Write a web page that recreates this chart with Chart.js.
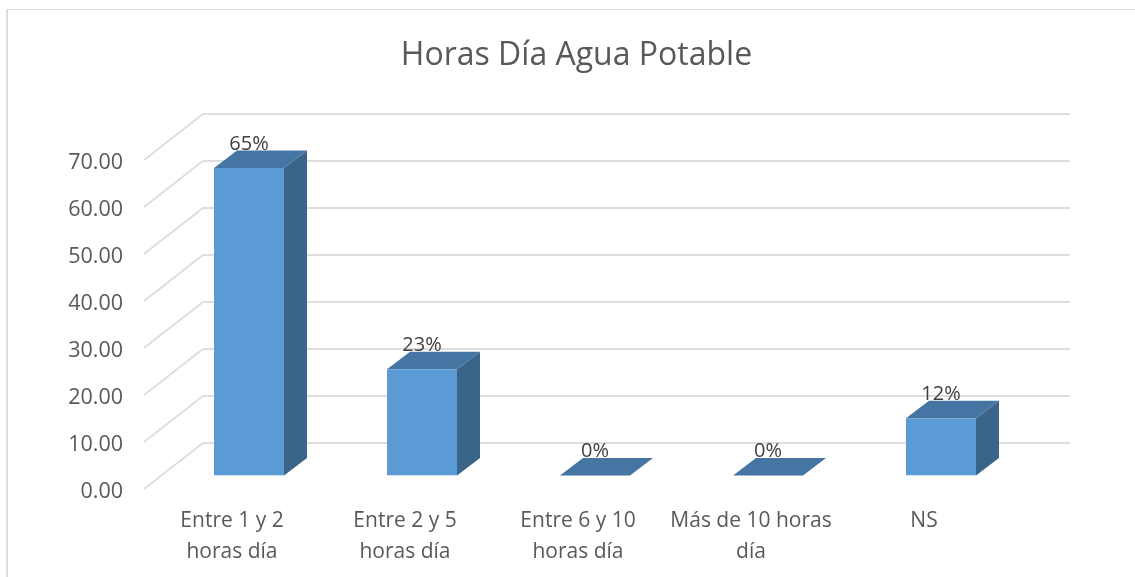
<!DOCTYPE html>
<html>
<head>
<meta charset="utf-8">
<title>Horas Día Agua Potable</title>
<script src="https://cdn.jsdelivr.net/npm/chart.js@4/dist/chart.umd.min.js"></script>
<style>
    html, body { margin: 0; padding: 0; background: #fff; overflow: hidden; }
    #frame { position: absolute; left: 6px; top: 9px; right: 0; bottom: 0; border-left: 2px solid #dedede; border-top: 1px solid #dedede; }
    #the-graph { position: absolute; left: 0; top: 0; }
</style>
</head>
<body>
<div id="frame"></div>
<canvas id="the-graph" width="1135" height="577"></canvas>
<script>
/*
 *  Data
 */
const chartTitle = 'Horas Día Agua Potable';
const categories = [
    ['Entre 1 y 2', 'horas día'],
    ['Entre 2 y 5', 'horas día'],
    ['Entre 6 y 10', 'horas día'],
    ['Más de 10 horas', 'día'],
    ['NS']
];
const percentValues = [65.4, 22.6, 0, 0, 12.2];
const axisMax = 70;
const axisStep = 10;

/*
 *  Fake 3D look, Chart.js has no 3D bars
 */
const fontName = '"Open Sans", sans-serif';
const depthX = 23, depthY = -17.5;      // bar depth
const wallX = 203, wallEndX = 1070, wallUp = -32.5;     // back wall, relative to the bar plane
const floorX = 144, floorDown = 13.5;   // front edge of the floor

const wallsPlugin = {
    id: 'walls',
    beforeDatasetsDraw(chart) {
        let ctx = chart.ctx, yScale = chart.scales.y;
        ctx.save();
        ctx.strokeStyle = '#dedede';
        ctx.lineWidth = 2;
        yScale.ticks.forEach(tick => {
            let y = yScale.getPixelForValue(tick.value);
            ctx.beginPath();
            ctx.moveTo(floorX, y + floorDown);
            ctx.lineTo(wallX, y + wallUp);
            ctx.lineTo(wallEndX, y + wallUp);
            ctx.stroke();
        });
        chart.getDatasetMeta(0).data.forEach(bar => {
            let left = bar.x - bar.width / 2, right = bar.x + bar.width / 2;
            // side face
            ctx.fillStyle = '#3a6488';
            ctx.beginPath();
            ctx.moveTo(right, bar.y);
            ctx.lineTo(right + depthX, bar.y + depthY);
            ctx.lineTo(right + depthX, bar.base + depthY);
            ctx.lineTo(right, bar.base);
            ctx.closePath();
            ctx.fill();
            // top face
            ctx.fillStyle = '#4575a2';
            ctx.beginPath();
            ctx.moveTo(left, bar.y);
            ctx.lineTo(left + depthX, bar.y + depthY);
            ctx.lineTo(right + depthX, bar.y + depthY);
            ctx.lineTo(right, bar.y);
            ctx.closePath();
            ctx.fill();
        });
        ctx.restore();
    },
    afterDatasetsDraw(chart) {
        let ctx = chart.ctx;
        ctx.save();
        ctx.fillStyle = '#404040';
        ctx.font = '20px ' + fontName;
        ctx.textAlign = 'center';
        ctx.textBaseline = 'middle';
        chart.getDatasetMeta(0).data.forEach((bar, i) => {
            ctx.fillText(Math.round(percentValues[i]) + '%', bar.x, bar.y - 24);
        });
        ctx.restore();
    }
};

document.addEventListener("DOMContentLoaded", () => {
    new Chart(document.getElementById('the-graph').getContext('2d'), {
        type: 'bar',
        data: {
            labels: categories,
            datasets: [{
                data: percentValues,
                backgroundColor: '#5b9bd5',
                categoryPercentage: 1,
                barPercentage: 70 / 173
            }]
        },
        options: {
            responsive: false,
            animation: false,
            layout: { padding: { left: 18, right: 0, top: 0, bottom: 0 } },
            plugins: {
                legend: { display: false },
                tooltip: { enabled: false },
                title: {
                    display: true,
                    text: chartTitle,
                    color: '#595959',
                    font: { family: fontName, size: 32, weight: 'normal', lineHeight: 1.25 },
                    padding: { top: 36, bottom: 70.5 }
                }
            },
            scales: {
                x: {
                    grid: { display: false, drawTicks: false },
                    border: { display: false },
                    afterFit(scale) { scale.height = 101.5; },
                    ticks: {
                        color: '#595959',
                        font: { family: fontName, size: 21, lineHeight: 1.476 },
                        padding: 30,
                        labelOffset: -17,
                        autoSkip: false,
                        maxRotation: 0,
                        minRotation: 0
                    }
                },
                y: {
                    min: 0,
                    max: axisMax,
                    grid: { display: false, drawTicks: false },
                    border: { display: false },
                    afterFit(scale) { scale.width = 144.5; },
                    ticks: {
                        stepSize: axisStep,
                        color: '#595959',
                        font: { family: fontName, size: 21.5 },
                        padding: 39.5,
                        labelOffset: 16,
                        callback: value => Number(value).toFixed(2)
                    }
                },
                // empty axis, only keeps the room right of the plot so the title stays centred
                spacer: {
                    type: 'linear',
                    position: 'right',
                    grid: { display: false },
                    border: { display: false },
                    ticks: { display: false },
                    afterFit(scale) { scale.width = 107.5; }
                }
            }
        },
        plugins: [wallsPlugin]
    });
});
</script>
</body>
</html>
